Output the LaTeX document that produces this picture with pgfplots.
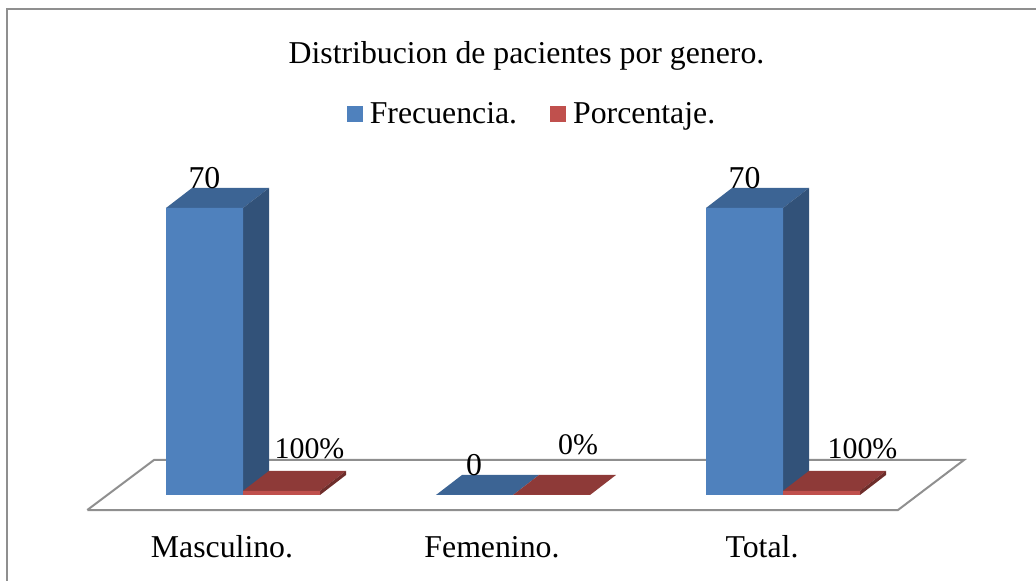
\documentclass[border=0pt]{standalone}
\usepackage{pgfplots}
\usepackage{pgfplotstable}
\usepackage{fontspec}
\setmainfont{Liberation Serif}
\pgfplotsset{compat=1.18}
\definecolor{bluefront}{HTML}{4F81BD}
\definecolor{bluetop}{HTML}{3C6494}
\definecolor{blueside}{HTML}{325279}
\definecolor{redfront}{HTML}{C0504D}
\definecolor{redtop}{HTML}{8E3A38}
\definecolor{redside}{HTML}{6E2D2B}
\definecolor{floorline}{HTML}{8F8F8F}
\pgfplotstableread{
x frec porc
0 70 1
1 0 0
2 70 1
}\datatable
\newcommand{\chartfont}{\fontsize{31.9}{36}\selectfont}
\newcommand{\pctfont}{\fontsize{30}{36}\selectfont}
\begin{document}
\begin{tikzpicture}
\useasboundingbox (0,0) rectangle (1036bp,581bp);
\begin{axis}[
  scale only axis, width=1036bp, height=581bp,
  xmin=-0.9, xmax=2.937, ymin=-20.976, ymax=120.73,
  clip=false,
  axis line style={draw=none}, tick style={draw=none},
  axis x line=bottom, axis y line=none,
  xtick={0,1,2}, xticklabels={Masculino.,Femenino.,Total.},
  xticklabel style={font=\chartfont, anchor=base, xshift=-21bp, yshift=24bp},
  major tick length=0pt,
  title={Distribucion de pacientes por genero.},
  title style={font=\chartfont, at={(axis cs:1.0500,103.9)}, anchor=base},
  legend style={draw=none, fill=none, font=\chartfont, legend columns=2,
    at={(axis cs:1.0704,92.9)}, anchor=center,
    /tikz/every even column/.append style={column sep=31bp},
    /tikz/every odd column/.append style={column sep=5bp}},
  legend image code/.code={\fill[#1] (0bp,-8bp) rectangle (16bp,8bp);},
]
% frame
\addplot[forget plot, floorline, line width=2bp] coordinates {(-0.874,-20.976) (-0.874,118.6) (2.937,118.6)};
% floor
\addplot[forget plot, floorline, line width=2bp] coordinates {(-0.5767,-3.66) (-0.3296,8.54) (2.6704,8.54) (2.4259,-3.66) (-0.5767,-3.66)};
% blue side and top faces
\addplot[forget plot, fill=bluetop, draw=none] coordinates {(-.2852,70) (0,70) (.0963,74.88) (-.1889,74.88)} -- cycle;
\addplot[forget plot, fill=blueside, draw=none] coordinates {(0,0) (.0963,4.88) (.0963,74.88) (0,70)} -- cycle;
\addplot[forget plot, fill=bluetop, draw=none] coordinates {(2-.2852,70) (2,70) (2.0963,74.88) (2-.1889,74.88)} -- cycle;
\addplot[forget plot, fill=blueside, draw=none] coordinates {(2,0) (2.0963,4.88) (2.0963,74.88) (2,70)} -- cycle;
\addplot[forget plot, fill=bluetop, draw=none] coordinates {(1-.2852,0) (1,0) (1.0963,4.88) (1-.1889,4.88)} -- cycle;
% blue fronts
\addplot[ybar, bar width=77bp, bar shift=-38.5bp, fill=bluefront, draw=none] table[x=x,y=frec] {\datatable};
\addlegendentry{Frecuencia.}
% red top and side faces
\addplot[forget plot, fill=redtop, draw=none] coordinates {(0,1) (.2852,1) (.3815,5.88) (.0963,5.88)} -- cycle;
\addplot[forget plot, fill=redside, draw=none] coordinates {(.2852,0) (.3815,4.88) (.3815,5.88) (.2852,1)} -- cycle;
\addplot[forget plot, fill=redtop, draw=none] coordinates {(2,1) (2.2852,1) (2.3815,5.88) (2.0963,5.88)} -- cycle;
\addplot[forget plot, fill=redside, draw=none] coordinates {(2.2852,0) (2.3815,4.88) (2.3815,5.88) (2.2852,1)} -- cycle;
\addplot[forget plot, fill=redtop, draw=none] coordinates {(1,0) (1.2852,0) (1.3815,4.88) (1.0963,4.88)} -- cycle;
% red fronts
\addplot[ybar, bar width=77bp, bar shift=38.5bp, fill=redfront, draw=none] table[x=x,y=porc] {\datatable};
\addlegendentry{Porcentaje.}
% value labels
\node[font=\chartfont, anchor=base, inner sep=0pt] at (axis cs:-0.1426,74.64) {70};
\node[font=\pctfont, anchor=base, inner sep=0pt] at (axis cs:0.2463,8.78) {100\%};
\node[font=\chartfont, anchor=base, inner sep=0pt] at (axis cs:0.8556,4.64) {0};
\node[font=\pctfont, anchor=base, inner sep=0pt] at (axis cs:1.2407,9.95) {0\%};
\node[font=\chartfont, anchor=base, inner sep=0pt] at (axis cs:1.8574,74.64) {70};
\node[font=\pctfont, anchor=base, inner sep=0pt] at (axis cs:2.2944,8.78) {100\%};
\end{axis}
\end{tikzpicture}
\end{document}
